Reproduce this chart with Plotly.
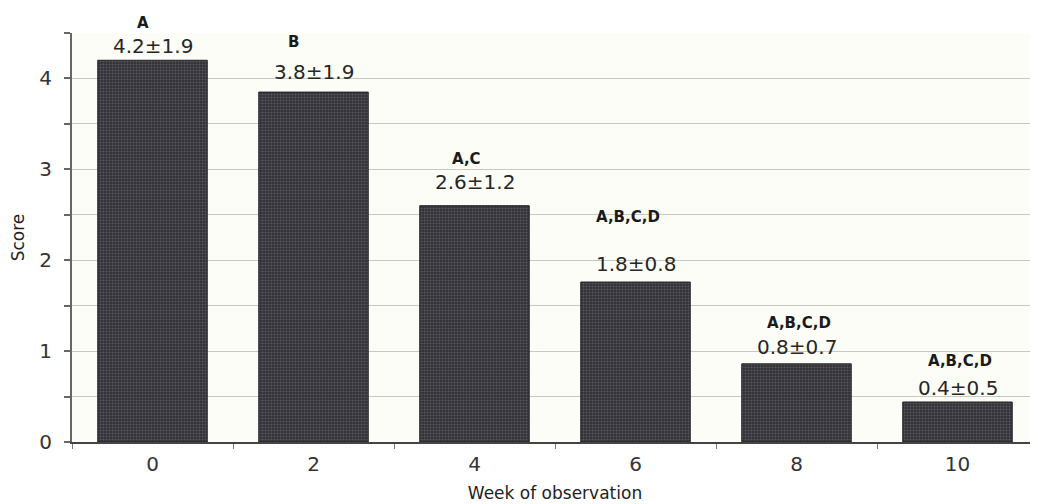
import plotly.graph_objects as go

weeks = ["0", "2", "4", "6", "8", "10"]
scores = [4.2, 3.85, 2.6, 1.76, 0.86, 0.44]
value_labels = ["4.2±1.9", "3.8±1.9", "2.6±1.2", "1.8±0.8", "0.8±0.7", "0.4±0.5"]
letter_labels = ["A", "B", "A,C", "A,B,C,D", "A,B,C,D", "A,B,C,D"]

# label offsets (pixels) relative to bar tops
value_shift = [0, 6, 10, 4, 3, 0]
letter_shift = [26, 39, 36, 54, 30, 30]
letter_xshift = [-10, -20, -8, -8, 2, 2]

fig = go.Figure()
fig.add_trace(go.Bar(
    x=weeks, y=scores,
    marker=dict(
        color="#3b3a40",
        line=dict(color="#222226", width=1),
        pattern=dict(shape=".", fgcolor="#84828a", bgcolor="#302f35", size=3, solidity=0.4),
    ),
    hoverinfo="skip",
))

for i, w in enumerate(weeks):
    fig.add_annotation(x=i, y=scores[i], xref="x", yref="y", text=value_labels[i],
                       showarrow=False, yanchor="bottom", yshift=value_shift[i],
                       font=dict(family="DejaVu Sans", size=20, color="#262626"))
    fig.add_annotation(x=i, y=scores[i], xref="x", yref="y", text="<b>" + letter_labels[i] + "</b>",
                       showarrow=False, yanchor="bottom", yshift=letter_shift[i], xshift=letter_xshift[i],
                       font=dict(family="DejaVu Sans", size=15, color="#1a1a1a"))

# page body has an 8px margin, so the figure is sized/offset to compensate
fig.update_layout(
    width=1030, height=496,
    margin=dict(l=64, r=0, t=25, b=62, autoexpand=False),
    paper_bgcolor="#ffffff",
    plot_bgcolor="#fdfdf7",
    bargap=0.32,
    showlegend=False,
    font=dict(family="DejaVu Sans", color="#333333"),
)
fig.update_xaxes(
    type="category",
    tickson="boundaries",
    ticks="outside", ticklen=5, tickcolor="#777777",
    showline=True, linecolor="#444444", linewidth=2,
    tickfont=dict(size=20, color="#333333"),
    ticklabelstandoff=3,
    title=dict(text="Week of observation", font=dict(size=17, color="#222222"), standoff=12),
    showgrid=False,
    automargin=False,
)
fig.update_yaxes(
    range=[0, 4.5],
    tickvals=[0, 1, 2, 3, 4],
    ticks="outside", ticklen=6, tickcolor="#666666", tickwidth=2,
    showline=True, linecolor="#666666", linewidth=2,
    showgrid=True, gridcolor="#c9c9c4", gridwidth=1,
    minor=dict(dtick=0.5, ticks="outside", ticklen=6, tickcolor="#666666", showgrid=True, gridcolor="#c9c9c4"),
    tickfont=dict(size=20, color="#333333"),
    ticklabelstandoff=8,
    title=dict(text="Score", font=dict(size=17, color="#222222"), standoff=16),
    zeroline=False,
    automargin=False,
)

fig.write_html("out.html")
